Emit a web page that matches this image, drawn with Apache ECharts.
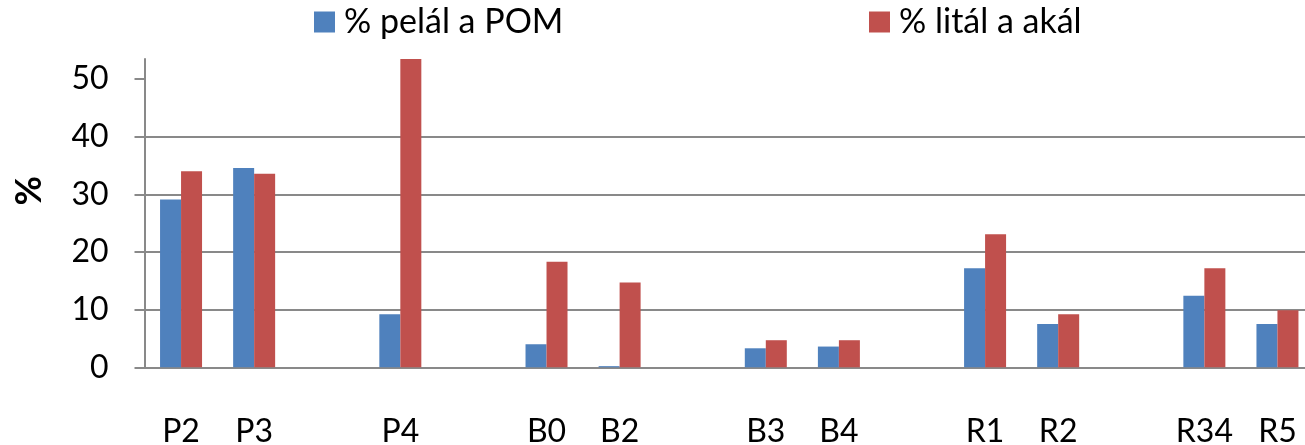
<!DOCTYPE html>
<html>
<head>
<meta charset="utf-8">
<script src="https://cdn.jsdelivr.net/npm/echarts@6/dist/echarts.min.js"></script>
<style>
  html, body { margin: 0; padding: 0; background: #ffffff; }
  #chart { width: 1305px; height: 445px; }
</style>
</head>
<body>
<div id="chart"></div>
<script>
// Sample sites; empty strings keep the spacing between site groups
const categories = ['P2', 'P3', '', 'P4', '', 'B0', 'B2', '', 'B3', 'B4', '', 'R1', 'R2', '', 'R34', 'R5'];
const seriesNames = ['% pelál a POM', '% litál a akál'];
const pelalPom = [29.1, 34.6, null, 9.2, null, 4.0, 0.2, null, 3.3, 3.6, null, 17.2, 7.5, null, 12.4, 7.5];
const litalAkal = [34.0, 33.6, null, 53.5, null, 18.3, 14.7, null, 4.7, 4.7, null, 23.1, 9.2, null, 17.2, 9.9];
const yTicks = [0, 10, 20, 30, 40, 50];
const yMax = 53.5;
const yTitle = '%';

const FONT = 'Lato, "Open Sans", sans-serif';
const GRID_COLOR = '#898989';
const colors = ['#4F81BD', '#C0504D'];

const chart = echarts.init(document.getElementById('chart'), null, { renderer: 'canvas' });

const legendCommon = {
  top: 5,
  padding: 0,
  itemWidth: 21,
  itemHeight: 21,
  icon: 'rect',
  textStyle: { fontFamily: FONT, fontSize: 34, color: '#000', padding: [0, 0, 0, 4] }
};

chart.setOption({
  animation: false,
  color: colors,
  textStyle: { fontFamily: FONT },
  legend: [
    Object.assign({ left: 314, data: [seriesNames[0]] }, legendCommon),
    Object.assign({ left: 869, data: [seriesNames[1]] }, legendCommon)
  ],
  grid: {
    left: 144.5,
    right: -9,
    top: 59,
    bottom: 77.7,
    containLabel: false,
    outerBoundsMode: 'none'
  },
  xAxis: {
    type: 'category',
    data: categories,
    axisLine: { show: true, lineStyle: { color: GRID_COLOR, width: 2 } },
    axisTick: { show: false },
    axisLabel: {
      interval: 0,
      margin: 48,
      fontFamily: FONT,
      fontSize: 32,
      color: '#000'
    },
    splitLine: { show: false }
  },
  yAxis: {
    type: 'value',
    min: 0,
    max: yMax,
    interval: 10,
    axisLine: { show: true, lineStyle: { color: GRID_COLOR, width: 2 } },
    axisTick: {
      show: true,
      inside: false,
      length: 10,
      customValues: yTicks,
      lineStyle: { color: GRID_COLOR, width: 2 }
    },
    axisLabel: {
      customValues: yTicks,
      margin: 36,
      fontFamily: FONT,
      fontSize: 32,
      color: '#000'
    },
    splitLine: {
      show: true,
      showMaxLine: false,
      lineStyle: { color: GRID_COLOR, width: 2 }
    }
  },
  graphic: [{
    type: 'text',
    left: 11,
    top: 176,
    rotation: Math.PI / 2,
    style: {
      text: yTitle,
      fontFamily: FONT,
      fontSize: 36,
      fontWeight: 'bold',
      fill: '#000'
    }
  }],
  series: [
    {
      name: seriesNames[0],
      type: 'bar',
      data: pelalPom,
      barWidth: 21,
      barGap: '0%',
      itemStyle: { color: colors[0] }
    },
    {
      name: seriesNames[1],
      type: 'bar',
      data: litalAkal,
      barWidth: 21,
      barGap: '0%',
      itemStyle: { color: colors[1] }
    }
  ]
});
</script>
</body>
</html>
